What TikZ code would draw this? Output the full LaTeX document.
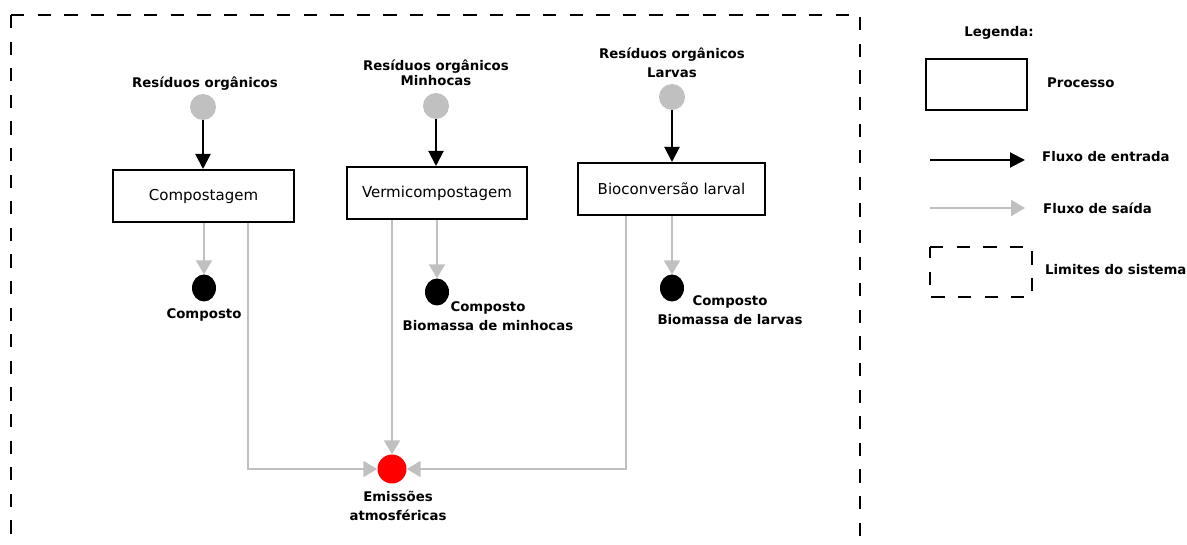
\documentclass[tikz,border=0pt]{standalone}
\usepackage{fontspec}
\setmainfont{DejaVu Sans}
\usetikzlibrary{arrows.meta,shapes.geometric}
\definecolor{flowgray}{RGB}{192,192,192}
\definecolor{emitred}{RGB}{255,0,0}

\tikzset{
  process/.style={draw=black, line width=2pt, fill=white, inner sep=0pt,
    minimum height=52pt, font=\fontsize{15}{18}\selectfont},
  lbl/.style={font=\fontsize{13.3}{19}\selectfont\bfseries, align=center, inner sep=0pt},
  lbltight/.style={font=\fontsize{13.3}{15}\selectfont\bfseries, align=center, inner sep=0pt},
  insrc/.style={circle, fill=flowgray, minimum size=26pt, inner sep=0pt},
  product/.style={ellipse, fill=black, minimum width=24pt, minimum height=27pt, inner sep=0pt},
  emis/.style={circle, fill=emitred, minimum size=29pt, inner sep=0pt},
  inflow/.style={draw=black, line width=2pt, -{Triangle[length=15pt,width=15pt]}},
  outflow/.style={draw=flowgray, line width=2pt, -{Triangle[length=14pt,width=16pt]}},
  boundary/.style={draw=black, line width=2pt, dash pattern=on 13.3pt off 13.3pt},
}

\begin{document}
\begin{tikzpicture}[x=1pt,y=-1pt]
\useasboundingbox (0,0) rectangle (1187,545);

% system boundary (open at the bottom)
\draw[boundary] (11,15) -- (11,545);
\draw[boundary] (11,15) -- (860,15) -- (860,545);

% inputs
\node[lbl] (t1) at (205,84) {Resíduos orgânicos};
\node[lbltight] (t2) at (436,72.5) {Resíduos orgânicos\\Minhocas};
\node[lbl] (t3) at (672,62.5) {Resíduos orgânicos\\Larvas};
\node[insrc] (src1) at (203,107) {};
\node[insrc] (src2) at (436,106) {};
\node[insrc] (src3) at (672,97) {};

% processes
\node[process, minimum width=181pt] (box1) at (203.5,196) {Compostagem};
\node[process, minimum width=180pt] (box2) at (437,193) {Vermicompostagem};
\node[process, minimum width=187pt] (box3) at (671.5,189) {Bioconversão larval};

\draw[inflow] (src1.south) -- (box1.north -| src1);
\draw[inflow] (src2.south) -- (box2.north -| src2);
\draw[inflow] (src3.south) -- (box3.north -| src3);

% products
\node[product] (prod1) at (204,288) {};
\node[product] (prod2) at (437,292) {};
\node[product] (prod3) at (672,288) {};
\node[lbl] (p1) at (204,315) {Composto};
\node[lbl] (p2) at (488,316.5) {Composto\\Biomassa de minhocas};
\node[lbl] (p3) at (730,310.5) {Composto\\Biomassa de larvas};

\draw[outflow] (box1.south -| prod1) -- (prod1.north);
\draw[outflow] (box2.south -| prod2) -- (prod2.north);
\draw[outflow] (box3.south -| prod3) -- (prod3.north);

% atmospheric emissions
\node[emis] (emis) at (392,469) {};
\node[lbl] (em) at (398,505.5) {Emissões\\atmosféricas};

\draw[outflow] ([xshift=44.5pt]box1.south) |- (emis.west);
\draw[outflow] (box2.south -| emis) -- (emis.north);
\draw[outflow] ([xshift=-45.5pt]box3.south) |- (emis.east);

% legend
\node[lbl] (lgtitle) at (999,33) {Legenda:};
\node[process, minimum width=101pt, minimum height=51pt] (lgbox) at (976.5,84.5) {};
\node[lbl, anchor=west] (lgproc) at (1047,83) {Processo};

\coordinate (lgin0) at (930,160);
\coordinate (lgin1) at (1025,160);
\draw[inflow] (lgin0) -- (lgin1);
\node[lbl, anchor=west] (lgintxt) at (1042,157) {Fluxo de entrada};

\coordinate (lgout0) at (930,208);
\coordinate (lgout1) at (1025,208);
\draw[outflow] (lgout0) -- (lgout1);
\node[lbl, anchor=west] (lgouttxt) at (1043,208) {Fluxo de saída};

\draw[boundary] (930,247) -- (1032,247) -- (1032,297) -- (930,297) -- cycle;
\node[lbl, anchor=west] (lglimtxt) at (1045,270) {Limites do sistema};
\end{tikzpicture}
\end{document}
